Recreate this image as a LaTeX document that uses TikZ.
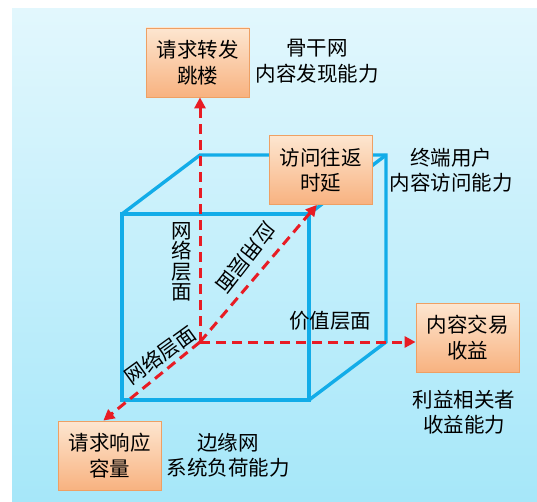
\documentclass[tikz,border=0pt]{standalone}
\usepackage{fontspec}
\newfontfamily\cjk{Noto Sans CJK SC}
\usetikzlibrary{arrows.meta,calc}
\definecolor{bgtop}{RGB}{226,247,253}
\definecolor{bgbot}{RGB}{166,231,249}
\definecolor{cubeblue}{RGB}{18,172,232}
\definecolor{axisred}{RGB}{232,28,36}
\definecolor{boxtop}{RGB}{253,230,208}
\definecolor{boxbot}{RGB}{248,178,128}
\definecolor{boxline}{RGB}{238,160,100}

\begin{document}
\begin{tikzpicture}[x=1pt,y=1pt,
    cubeline/.style={cubeblue,line width=3.4pt},
    axis/.style={draw=axisred,line width=3pt,dash pattern=on 10pt off 6pt,
        -{Triangle[length=11pt,width=11pt]}},
    metric/.style={draw=boxline,line width=0.8pt,top color=boxtop,bottom color=boxbot,
        minimum width=103pt,minimum height=69pt,inner sep=0pt,align=center,
        font=\cjk\fontsize{20.5}{25.5}\selectfont},
    note/.style={align=center,inner sep=0pt,font=\cjk\fontsize{20.5}{25.5}\selectfont}]
            \useasboundingbox (0,0) rectangle (537,501);
            \shade[top color=bgtop,bottom color=bgbot] (12,0) rectangle (537,492);

            \coordinate (fbl) at (122,101);
            \coordinate (ftr) at (309,287);
            \coordinate (ftl) at (122,287);
            \coordinate (fbr) at (309,101);
            \coordinate (bbl) at (200,159);
            \coordinate (btl) at (200,346);
            \coordinate (btr) at (386,346);
            \coordinate (bbr) at (386,159);
            \draw[cubeline] (fbl) rectangle (ftr);
            \draw[cubeline] (ftl) -- (btl) -- (btr) -- (bbr) -- (fbr);
            \draw[cubeline] (ftr) -- (btr);

            \node[metric] (hop) at (197.5,438.5) {请求转发\\跳楼};
            \node[metric] (rtt) at (320.5,331) {访问往返\\时延};
            \node[metric] (revenue) at (467.5,163.5) {内容交易\\收益};
            \node[metric] (capacity) at (109.5,45.5) {请求响应\\容量};

            \draw[axis] (bbl) -- (bbl |- hop.south);
            \draw[axis] (bbl) -- (bbl -| revenue.west);
            \draw[axis] (bbl) -- (capacity.100);
            \draw[axis] (bbl) -- (rtt.264);

            \node[note] (backbone) at (317,440) {骨干网\\内容发现能力};
            \node[note] (terminal) at (451,331) {终端用户\\内容访问能力};
            \node[note] (stake) at (464,89) {利益相关者\\收益能力};
            \node[note] (edge) at (228,46) {边缘网\\系统负荷能力};

            \node[note,font=\cjk\fontsize{20.5}{20.5}\selectfont] (netv) at (182,239) {网\\络\\层\\面};
            \node[note,rotate=-128] (app) at (246,243) {应用层面};
            \node[note,rotate=36] (netd) at (160,146) {网络层面};
            \node[note] (value) at (330,180) {价值层面};
        \end{tikzpicture}
\end{document}
